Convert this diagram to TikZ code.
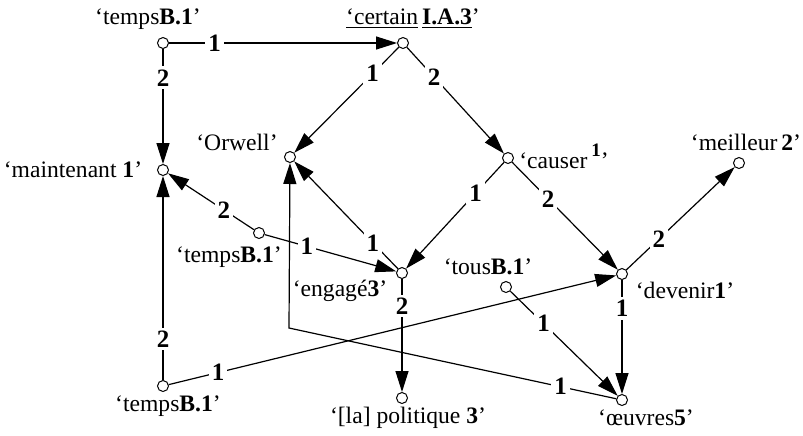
\documentclass[tikz,border=0pt]{standalone}
\usepackage{fontspec}
\setmainfont{Liberation Serif}
\usetikzlibrary{arrows.meta}

\begin{document}
\begin{tikzpicture}[x=0.5pt, y=-0.5pt, every node/.style={font=\fontsize{11.8}{13}\selectfont},
	vertex/.style={circle, draw, line width=0.5pt, minimum size=5.5pt, inner sep=0pt},
	num/.style={fill=white, inner sep=1.5pt, font=\fontsize{12.5}{14}\selectfont\bfseries},
	arc/.style={line width=0.6pt, -{Triangle[length=10.5pt, width=6.5pt]}},
	link/.style={line width=0.6pt}]
	\useasboundingbox (0,0) rectangle (803,435);
	\node[vertex] (tA) at (163,43) {};
	\node[vertex] (cert) at (403,43) {};
	\node[vertex] (maint) at (163,170) {};
	\node[vertex] (orw) at (290,157) {};
	\node[vertex] (caus) at (508,158) {};
	\node[vertex] (meil) at (739,163) {};
	\node[vertex] (tB) at (259,233) {};
	\node[vertex] (eng) at (402,273) {};
	\node[vertex] (tous) at (506,287) {};
	\node[vertex] (dev) at (622,274) {};
	\node[vertex] (tC) at (163,386) {};
	\node[vertex] (pol) at (402,398) {};
	\node[vertex] (oeuv) at (622,400) {};
	\coordinate (bend) at (289,328);
	\node (tAl) at (148,19) {‘temps\textbf{B.1}’};
	\node (certl) at (413,19) {\underline{‘certain}\,\underline{\textbf{I.A.3}}’};
	\node (maintl) at (73,170) {‘maintenant \textbf{1}’};
	\node (orwl) at (237,142) {‘Orwell’};
	\node (causl) at (564,156) {‘causer\,\raisebox{1.1ex}{\fontsize{9.5}{10}\selectfont\textbf{1}}’};
	\node (meill) at (746,142) {‘meilleur\,\textbf{2}’};
	\node (tBl) at (229,257) {‘temps\textbf{B.1}’};
	\node (engl) at (340,291) {‘engagé\textbf{3}’};
	\node (tousl) at (488,267) {‘tous\textbf{B.1}’};
	\node (devl) at (685,290) {‘devenir\textbf{1}’};
	\node (tCl) at (168,406) {‘temps\textbf{B.1}’};
	\node (poll) at (408,418) {‘[la] politique \textbf{3}’};
	\node (oeuvl) at (646,418) {‘œuvres\textbf{5}’};
	\draw[arc] (tA) -- node[num, pos=.2] {1} (cert);
	\draw[arc] (tA) -- node[num, pos=.25] {2} (maint);
	\draw[arc] (cert) -- node[num, pos=.25] {1} (orw);
	\draw[arc] (cert) -- node[num, pos=.28] {2} (caus);
	\draw[arc] (tB) -- node[num, pos=.35] {2} (maint);
	\draw[arc] (tB) -- node[num, pos=.32] {1} (eng);
	\draw[arc] (eng) -- node[num, pos=.24] {1} (orw);
	\draw[arc] (caus) -- node[num, pos=.29] {1} (eng);
	\draw[arc] (caus) -- node[num, pos=.34] {2} (dev);
	\draw[arc] (dev) -- node[num, pos=.3] {2} (meil);
	\draw[arc] (eng) -- node[num, pos=.24] {2} (pol);
	\draw[arc] (tous) -- node[num, pos=.31] {1} (oeuv);
	\draw[arc] (dev) -- node[num, pos=.25] {1} (oeuv);
	\draw[arc] (tC) -- node[num, pos=.2] {2} (maint);
	\draw[arc] (tC) -- node[num, pos=.11] {1} (dev);
	\draw[arc] (oeuv) -- node[num, pos=.17] {1} (bend) -- (orw);
\end{tikzpicture}
\end{document}
